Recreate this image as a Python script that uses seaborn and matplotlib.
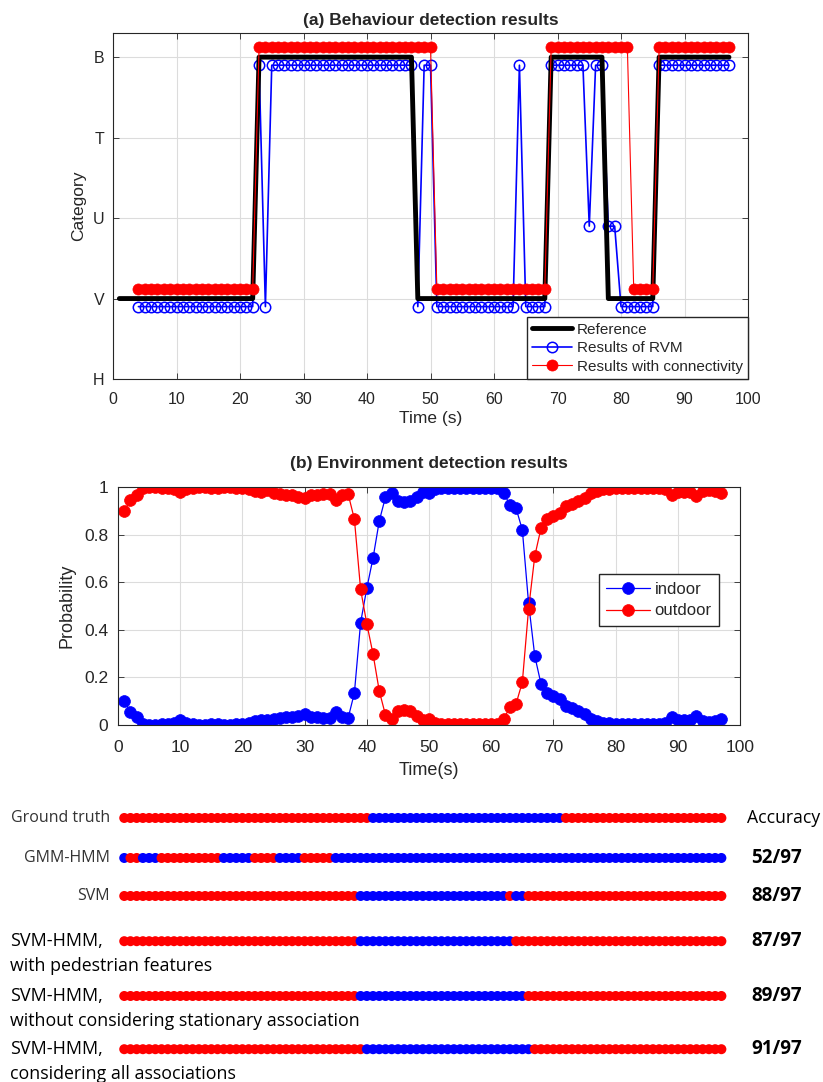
import numpy as np
import pandas as pd
import matplotlib
matplotlib.use("Agg")
import matplotlib.pyplot as plt
import seaborn as sns

# ---- (a) behaviour detection: categories H=0, V=1, U=2, T=3, B=4
cat_ticks = [0, 1, 2, 3, 4]
cat_labels = ["H", "V", "U", "T", "B"]
# run-length (category, number of seconds)
ref_start = 1
ref_runs = [(1, 22), (4, 25), (1, 21), (4, 9), (1, 8), (4, 12)]
rvm_start = 4
rvm_runs = [(1, 19), (4, 1), (1, 1), (4, 23), (1, 1), (4, 2), (1, 13), (4, 1),
            (1, 4), (4, 6), (2, 1), (4, 2), (2, 2), (1, 6), (4, 12)]
conn_start = 4
conn_runs = [(1, 19), (4, 28), (1, 18), (4, 13), (1, 4), (4, 12)]

# ---- (b) environment detection probabilities, t = 1..97
time_b = list(range(1, 98))
outdoor = [0.90, 0.945, 0.965, 0.995, 0.998, 0.998, 0.997, 0.995, 0.99, 0.978,
           0.99, 0.995, 0.998, 0.998, 0.997, 0.997, 0.998, 0.998, 0.997, 0.995,
           0.99, 0.985, 0.98, 0.988, 0.975, 0.97, 0.968, 0.965, 0.96, 0.955,
           0.965, 0.968, 0.97, 0.97, 0.945, 0.965, 0.97, 0.865, 0.57, 0.425,
           0.298, 0.143, 0.042, 0.025, 0.06, 0.065, 0.06, 0.04, 0.022, 0.025,
           0.008, 0.003, 0.003, 0.003, 0.003, 0.003, 0.003, 0.003, 0.003, 0.003,
           0.003, 0.025, 0.075, 0.09, 0.18, 0.487, 0.71, 0.827, 0.865, 0.88,
           0.89, 0.92, 0.93, 0.942, 0.955, 0.975, 0.982, 0.99, 0.993, 0.997,
           0.997, 0.997, 0.997, 0.997, 0.997, 0.997, 0.997, 0.99, 0.968, 0.98,
           0.98, 0.98, 0.962, 0.985, 0.988, 0.985, 0.976]
indoor = [0.10, 0.055, 0.035, 0.005, 0.002, 0.002, 0.003, 0.005, 0.01, 0.022,
          0.01, 0.005, 0.002, 0.002, 0.003, 0.003, 0.002, 0.002, 0.003, 0.005,
          0.01, 0.015, 0.02, 0.02, 0.025, 0.03, 0.032, 0.035, 0.04, 0.045,
          0.035, 0.032, 0.03, 0.03, 0.055, 0.035, 0.03, 0.135, 0.43, 0.575,
          0.702, 0.857, 0.958, 0.975, 0.94, 0.935, 0.94, 0.96, 0.978, 0.975,
          0.992, 0.997, 0.997, 0.997, 0.997, 0.997, 0.997, 0.997, 0.997, 0.997,
          0.997, 0.975, 0.925, 0.91, 0.82, 0.513, 0.29, 0.173, 0.135, 0.12,
          0.11, 0.08, 0.07, 0.058, 0.045, 0.025, 0.018, 0.01, 0.007, 0.003,
          0.003, 0.003, 0.003, 0.003, 0.003, 0.003, 0.003, 0.01, 0.032, 0.02,
          0.02, 0.02, 0.038, 0.015, 0.012, 0.015, 0.024]

# ---- comparison rows (run-length of indoor/outdoor labels, t = 1..97)
row_names = ["Ground truth", "GMM-HMM", "SVM", "SVM-HMM,", "SVM-HMM,", "SVM-HMM,"]
row_sub = ["", "", "", "with pedestrian features",
           "without considering stationary association",
           "considering all associations"]
row_runs = [
    [("outdoor", 40), ("indoor", 31), ("outdoor", 26)],
    [("indoor", 1), ("outdoor", 2), ("indoor", 3), ("outdoor", 10), ("indoor", 5),
     ("outdoor", 4), ("indoor", 4), ("outdoor", 5), ("indoor", 63)],
    [("outdoor", 38), ("indoor", 24), ("outdoor", 1), ("indoor", 2), ("outdoor", 32)],
    [("outdoor", 38), ("indoor", 25), ("outdoor", 34)],
    [("outdoor", 38), ("indoor", 27), ("outdoor", 32)],
    [("outdoor", 39), ("indoor", 27), ("outdoor", 31)],
]
accuracy = ["", "52/97", "88/97", "87/97", "89/97", "91/97"]


def expand(start, runs):
    vals = []
    for v, n in runs:
        vals += [v] * n
    return list(range(start, start + len(vals))), vals


sns.set_style("ticks")
plt.rcParams["font.family"] = ["Liberation Sans", "DejaVu Sans"]
plt.rcParams["xtick.direction"] = "in"
plt.rcParams["ytick.direction"] = "in"
plt.rcParams["xtick.top"] = True
plt.rcParams["ytick.right"] = True
plt.rcParams["axes.edgecolor"] = "#262626"
plt.rcParams["xtick.color"] = "#262626"
plt.rcParams["ytick.color"] = "#262626"

fig = plt.figure(figsize=(8.23, 10.82), dpi=100)

# ---------------- (a)
ax1 = fig.add_axes([0.1373, 0.6497, 0.7716, 0.3198])
t_ref, c_ref = expand(ref_start, ref_runs)
t_rvm, c_rvm = expand(rvm_start, rvm_runs)
t_con, c_con = expand(conn_start, conn_runs)

sns.lineplot(x=t_rvm, y=np.array(c_rvm) - 0.1, ax=ax1, color="blue", lw=1.2,
             marker="o", markersize=7.5, markerfacecolor="none",
             markeredgecolor="blue", markeredgewidth=1.1, zorder=2)
sns.lineplot(x=t_ref, y=c_ref, ax=ax1, color="black", lw=3.5, zorder=3)
sns.lineplot(x=t_con, y=np.array(c_con) + 0.12, ax=ax1, color="red", lw=0.8,
             marker="o", markersize=8, markerfacecolor="red",
             markeredgecolor="red", markeredgewidth=0.5, zorder=4)

h = ax1.get_lines()
ax1.legend([h[1], h[0], h[2]], ["Reference", "Results of RVM", "Results with connectivity"],
           loc="lower right", borderaxespad=0, fancybox=False, edgecolor="#262626",
           framealpha=1, fontsize=11, handlelength=2.6, borderpad=0.35,
           labelspacing=0.3, handletextpad=0.3)
ax1.set_xlim(0, 100)
ax1.set_ylim(0, 4.3)
ax1.set_xticks(range(0, 101, 10))
ax1.set_yticks(cat_ticks)
ax1.set_yticklabels(cat_labels)
ax1.tick_params(labelsize=11.5, length=4, width=0.6)
ax1.tick_params(axis="x", pad=9)
ax1.tick_params(axis="y", pad=6)
ax1.grid(True, color="#dcdcdc", lw=0.8)
ax1.set_xlabel("Time (s)", fontsize=12.5, labelpad=3)
ax1.set_ylabel("Category", fontsize=12.5, labelpad=5)
ax1.set_title("(a) Behaviour detection results", fontsize=12.5, fontweight="bold", pad=6)
for s in ax1.spines.values():
    s.set_linewidth(0.8)

# ---------------- (b)
ax2 = fig.add_axes([0.1434, 0.3299, 0.7558, 0.2200])
sns.lineplot(x=time_b, y=indoor, ax=ax2, color="blue", lw=0.9, marker="o",
             markersize=8.5, markerfacecolor="blue", markeredgecolor="blue",
             markeredgewidth=0.5, label="indoor")
sns.lineplot(x=time_b, y=outdoor, ax=ax2, color="red", lw=0.9, marker="o",
             markersize=8.5, markerfacecolor="red", markeredgecolor="red",
             markeredgewidth=0.5, label="outdoor")
ax2.legend(loc="center right", bbox_to_anchor=(0.98, 0.525), fancybox=False,
           edgecolor="#262626", framealpha=1, fontsize=12, handlelength=2.6,
           borderpad=0.45, labelspacing=0.4, handletextpad=0.3)
ax2.set_xlim(0, 100)
ax2.set_ylim(0, 1)
ax2.set_xticks(range(0, 101, 10))
ax2.set_yticks([0, 0.2, 0.4, 0.6, 0.8, 1])
ax2.set_yticklabels(["0", "0.2", "0.4", "0.6", "0.8", "1"])
ax2.tick_params(labelsize=12.5, length=4, width=0.6)
ax2.tick_params(axis="x", pad=11)
ax2.tick_params(axis="y", pad=7)
ax2.grid(True, color="#dcdcdc", lw=0.8)
ax2.set_xlabel("Time(s)", fontsize=13, labelpad=5)
ax2.set_ylabel("Probability", fontsize=13, labelpad=6)
ax2.set_title("(b) Environment detection results", fontsize=12.5, fontweight="bold", pad=14)
for s in ax2.spines.values():
    s.set_linewidth(0.8)

# ---------------- comparison rows
ax3 = fig.add_axes([0.1434, 0.0037, 0.7558, 0.2588])
row_y = [0, 1.0, 1.95, 3.08, 4.45, 5.78]
frames = []
for i, runs in enumerate(row_runs):
    tt, lab = expand(1, runs)
    frames.append(pd.DataFrame({"t": tt, "row": row_y[i], "env": lab}))
rows_df = pd.concat(frames, ignore_index=True)
sns.scatterplot(data=rows_df, x="t", y="row", hue="env",
                palette={"indoor": "blue", "outdoor": "red"}, s=52,
                linewidth=0, legend=False, ax=ax3)
ax3.set_xlim(0, 100)
ax3.set_ylim(6.5, -0.5)
ax3.axis("off")

lab_font = ["Open Sans", "DejaVu Sans"]
for i in range(len(row_names)):
    if row_sub[i]:
        ax3.text(-17.4, row_y[i], row_names[i], ha="left", va="center",
                 fontsize=13, family=lab_font, color="black")
        ax3.text(-17.4, row_y[i] + 0.62, row_sub[i], ha="left", va="center",
                 fontsize=12.8, family=lab_font, color="black")
    else:
        ax3.text(-1.3, row_y[i], row_names[i], ha="right", va="center",
                 fontsize=11.5, family=lab_font, color="#333333")
    if accuracy[i]:
        ax3.text(105.9, row_y[i], accuracy[i], ha="center", va="center",
                 fontsize=13.5, fontweight="bold", family=lab_font, color="black")
ax3.text(101.1, row_y[0], "Accuracy", ha="left", va="center", fontsize=12.7,
         family=lab_font, color="black")

fig.savefig("out.png", dpi=100)
